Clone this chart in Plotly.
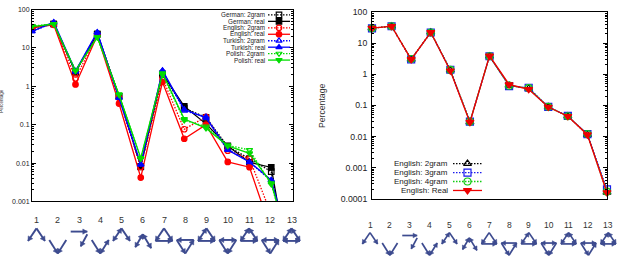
import math
import plotly.graph_objects as go

W, H = 618, 270

# ---------------- data ----------------
motifs = list(range(1, 14))
motif_labels = [str(m) for m in motifs]

# left panel (percentage per motif)
german_2gram  = [33, 42, 2.3, 23, 0.55, 0.008, 2.0, 0.27, 0.155, 0.027, 0.013, 0.006, 5e-6]
german_real   = [34, 42, 2.4, 23, 0.55, 0.0082, 2.1, 0.30, 0.105, 0.028, 0.0105, 0.0077, 5e-6]
english_2gram = [35, 41, 1.6, 22, 0.5, 0.008, 1.6, 0.076, 0.16, 0.021, 0.013, 0.00046, 0.0001]
english_real  = [34, 40, 1.12, 21, 0.355, 0.0042, 1.3, 0.043, 0.10, 0.0107, 0.0078, 0.00017, 0.00005]
turkish_2gram = [27, 45, 2.4, 25, 0.5, 0.009, 2.5, 0.23, 0.16, 0.023, 0.0105, 0.0035, 3e-5]
turkish_real  = [27, 47, 2.5, 25.7, 0.5, 0.0093, 2.6, 0.25, 0.15, 0.022, 0.0107, 0.0036, 3.6e-5]
polish_2gram  = [37, 42, 2.6, 19, 0.62, 0.013, 2.0, 0.13, 0.09, 0.029, 0.022, 0.0028, 3e-5]
polish_real   = [36, 42, 2.5, 19, 0.6, 0.0135, 2.2, 0.14, 0.081, 0.028, 0.018, 0.003, 3e-5]

# right panel (English n-gram models)
en_2gram = [30.5, 35, 3.0, 22.4, 1.36, 0.029, 3.8, 0.44, 0.35, 0.089, 0.045, 0.0115, 0.00016]
en_3gram = [30, 35, 3.0, 22, 1.4, 0.030, 3.8, 0.42, 0.37, 0.090, 0.046, 0.012, 0.0002]
en_4gram = [30, 35, 3.1, 22, 1.38, 0.030, 3.8, 0.43, 0.36, 0.090, 0.045, 0.012, 0.00017]
en_real  = [30.5, 35, 3.0, 22.4, 1.3, 0.029, 3.9, 0.47, 0.33, 0.089, 0.045, 0.0115, 0.00016]

left_ticks = [0.001, 0.01, 0.1, 1, 10, 100]
left_ticktext = ["0.001", "0.01", "0.1", "1", "10", "100"]
right_ticks = [0.0001, 0.001, 0.01, 0.1, 1, 10, 100]
right_ticktext = ["0.0001", "0.001", "0.01", "0.1", "1", "10", "100"]

DOT = "1.5px,1.5px"
BLACK, RED, BLUE, GREEN = "#000000", "#ff0000", "#0000ff", "#00dd00"
left_series = [
    ("German: 2gram", german_2gram, BLACK, DOT, "square-open"),
    ("German: real", german_real, BLACK, "solid", "square"),
    ("English: 2gram", english_2gram, RED, DOT, "circle-open"),
    ("English: real", english_real, RED, "solid", "circle"),
    ("Turkish: 2gram", turkish_2gram, BLUE, DOT, "triangle-up-open"),
    ("Turkish: real", turkish_real, BLUE, "solid", "triangle-up"),
    ("Polish: 2gram", polish_2gram, GREEN, DOT, "triangle-down-open"),
    ("Polish: real", polish_real, GREEN, "solid", "triangle-down"),
]
right_series = [
    ("English: 2gram", en_2gram, BLACK, DOT, "triangle-up-open"),
    ("English: 3gram", en_3gram, "#1a1aee", DOT, "square-open"),
    ("English: 4gram", en_4gram, "#11cc11", DOT, "circle-open"),
    ("English: Real", en_real, "#ee0000", "solid", "triangle-down"),
]

fig = go.Figure()

for name, vals, col, dash, sym in left_series:
    fig.add_trace(go.Scatter(
        x=motifs, y=vals, mode="lines+markers", name=name, showlegend=False,
        line=dict(color=col, width=1.3, dash=dash),
        marker=dict(symbol=sym, size=5.5, color=col, line=dict(color=col, width=1.2)),
        xaxis="x", yaxis="y"))

for name, vals, col, dash, sym in right_series:
    fig.add_trace(go.Scatter(
        x=motifs, y=vals, mode="lines+markers", name=name, showlegend=False,
        line=dict(color=col, width=1.4 if dash == "solid" else 1.2, dash=dash),
        marker=dict(symbol=sym, size=7, color=col, line=dict(color=col, width=1.2)),
        cliponaxis=False, xaxis="x2", yaxis="y2"))

# ---------------- custom gnuplot-style legends (pixel overlay axis) ----------------
annotations = []
def legend(entries, text_right, x0, x1, y_first, dy, fsize, msize):
    for k, (name, vals, col, dash, sym) in enumerate(entries):
        y = y_first + k * dy
        annotations.append(dict(x=text_right / W, y=1 - y / H, xref="paper", yref="paper",
                                text=name, showarrow=False, xanchor="right", yanchor="middle",
                                borderpad=0,
                                font=dict(size=fsize, color="#222", family="Liberation Sans")))
        fig.add_trace(go.Scatter(x=[x0, x1], y=[y, y], mode="lines", showlegend=False,
                                 line=dict(color=col, width=1.3, dash=dash),
                                 xaxis="x3", yaxis="y3", hoverinfo="skip"))
        fig.add_trace(go.Scatter(x=[(x0 + x1) / 2], y=[y], mode="markers", showlegend=False,
                                 marker=dict(symbol=sym, size=msize, color=col,
                                             line=dict(color=col, width=1.2)),
                                 xaxis="x3", yaxis="y3", hoverinfo="skip"))

legend(left_series, 266, 268, 290, 10.3, 6.7, 6.3, 5.5)
legend(right_series, 449, 453, 482, 164.7, 9.3, 8.0, 7)

# ---------------- motif glyphs ----------------
GLYPH_COL = "#3d4b8f"
UP = {"T": (0, 9), "L": (-8.5, 22), "R": (8.5, 22)}
DOWN = {"A": (-8.5, 21), "B": (8.5, 21), "C": (0, 35)}
CHAIN = {"P": (-8.3, 12.3), "Q": (8.3, 12.3), "Q2": (8.3, 15), "S": (1.7, 27.7)}
LOWUP = {"T": (0, 15), "L": (-7.5, 28.5), "R": (8.5, 29.5)}
# edge: (from, to, head_at_to, head_at_from)
glyphs = {
    1: (UP, [("T", "L", 1, 0), ("T", "R", 1, 0)]),
    2: (DOWN, [("A", "C", 1, 0), ("B", "C", 1, 0)]),
    3: (CHAIN, [("P", "Q", 1, 0), ("Q2", "S", 1, 0)]),
    4: (DOWN, [("A", "C", 1, 0), ("B", "C", 1, 1)]),
    5: (UP, [("T", "L", 1, 1), ("T", "R", 1, 0)]),
    6: (LOWUP, [("T", "L", 1, 1), ("T", "R", 1, 1)]),
    7: (UP, [("T", "L", 1, 0), ("T", "R", 1, 0), ("L", "R", 1, 0)]),
    8: (DOWN, [("B", "A", 1, 0), ("A", "C", 1, 0), ("C", "B", 1, 0)]),
    9: (UP, [("T", "L", 1, 1), ("T", "R", 1, 0), ("L", "R", 1, 0)]),
    10: (DOWN, [("A", "B", 1, 1), ("A", "C", 1, 0), ("B", "C", 1, 0)]),
    11: (UP, [("T", "L", 1, 1), ("T", "R", 1, 1), ("L", "R", 1, 0)]),
    12: (DOWN, [("A", "B", 1, 1), ("A", "C", 1, 0), ("C", "B", 1, 0)]),
    13: (UP, [("T", "L", 1, 1), ("T", "R", 1, 1), ("L", "R", 1, 1)]),
}

shapes = []
def P(x, y):
    return f"{x / W:.5f},{1 - y / H:.5f}"

def head(tip, frm, L, w):
    dx, dy = tip[0] - frm[0], tip[1] - frm[1]
    n = math.hypot(dx, dy)
    ux, uy = dx / n, dy / n
    bx, by = tip[0] - ux * L, tip[1] - uy * L
    px_, py_ = -uy * w, ux * w
    path = f"M{P(*tip)} L{P(bx + px_, by + py_)} L{P(bx - px_, by - py_)} Z"
    shapes.append(dict(type="path", path=path, xref="paper", yref="paper",
                       fillcolor=GLYPH_COL, line=dict(color=GLYPH_COL, width=0.5)))

def draw_glyphs(cx0, step, ny, s, lw, fsize):
    for i in motifs:
        cx = cx0 + (i - 1) * step
        annotations.append(dict(x=cx / W, y=1 - ny / H, xref="paper", yref="paper",
                                text=motif_labels[i - 1], showarrow=False,
                                xanchor="center", yanchor="middle", borderpad=0,
                                font=dict(size=fsize, color="#333", family="Liberation Sans")))
        nodes, edges = glyphs[i]
        pos = {k: (cx + v[0] * s, ny + v[1] * s) for k, v in nodes.items()}
        for a, b, hb, ha in edges:
            p, q = pos[a], pos[b]
            shapes.append(dict(type="path", path=f"M{P(*p)} L{P(*q)}", xref="paper",
                               yref="paper", line=dict(color=GLYPH_COL, width=lw)))
            if hb:
                head(q, p, 4.5 * s, 2.7 * s)
            if ha:
                head(p, q, 4.5 * s, 2.7 * s)

draw_glyphs(36.5, 21.25, 223, 1.0, 1.9, 9)
draw_glyphs(370, 19.86, 228.3, 0.9, 1.7, 8.5)

# ---------------- axis titles ----------------
annotations.append(dict(x=1.5 / W, y=1 - 100 / H, xref="paper", yref="paper", text="Percentage",
                        textangle=-90, showarrow=False, xanchor="center", yanchor="middle",
                        font=dict(size=4.5, color="#333", family="Liberation Sans")))
annotations.append(dict(x=322 / W, y=1 - 105 / H, xref="paper", yref="paper", text="Percentage",
                        textangle=-90, showarrow=False, xanchor="center", yanchor="middle",
                        font=dict(size=8.7, color="#333", family="Liberation Sans")))

xcommon = dict(range=[1, 13], showticklabels=False, ticks="", showline=True, mirror=True,
               linecolor="black", linewidth=1, showgrid=False, zeroline=False)
ycommon = dict(type="log", ticks="inside", ticklen=4, tickwidth=1, tickcolor="black",
               showline=True, mirror="allticks", linecolor="black", linewidth=1,
               showgrid=False, zeroline=False, tickmode="array",
               minor=dict(ticks="inside", ticklen=2, tickcolor="black", dtick="D1", showgrid=False))

fig.update_layout(
    width=W, height=H, margin=dict(l=0, r=0, t=0, b=0),
    paper_bgcolor="white", plot_bgcolor="rgba(0,0,0,0)",
    font=dict(family="Liberation Sans", color="#222"),
    showlegend=False,
    xaxis=dict(domain=[32 / W, 293 / W], anchor="y", **xcommon),
    yaxis=dict(domain=[1 - 204 / H, 1 - 4.7 / H], anchor="x", range=[-3, 2],
               tickvals=left_ticks, ticktext=left_ticktext,
               tickfont=dict(size=7, color="#222"), **ycommon),
    xaxis2=dict(domain=[372 / W, 607 / W], anchor="y2", **xcommon),
    yaxis2=dict(domain=[1 - 201.3 / H, 1 - 7.3 / H], anchor="x2", range=[-4, 2],
                tickvals=right_ticks, ticktext=right_ticktext,
                tickfont=dict(size=8.7, color="#222"), ticklabelstandoff=2, **ycommon),
    xaxis3=dict(domain=[0, 1], anchor="y3", range=[0, W], visible=False, fixedrange=True),
    yaxis3=dict(domain=[0, 1], anchor="x3", range=[H, 0], visible=False, fixedrange=True),
    shapes=shapes, annotations=annotations,
)

fig.write_html("out.html")
